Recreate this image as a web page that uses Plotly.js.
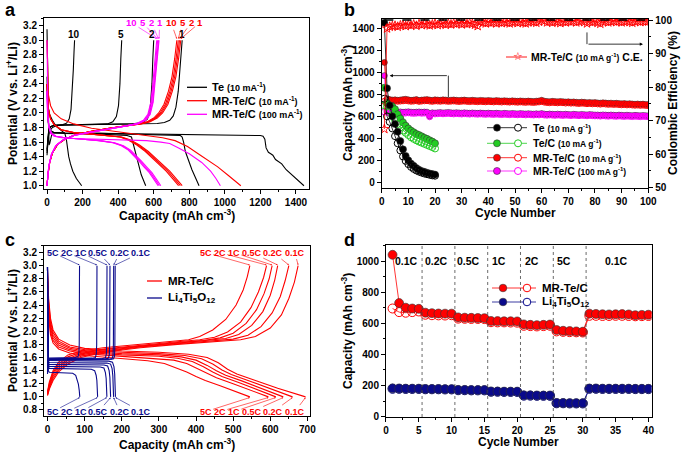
<!DOCTYPE html>
<html><head><meta charset="utf-8">
<script src="https://cdn.plot.ly/plotly-3.0.1.min.js"></script>
<style>html,body{margin:0;padding:0;background:#fff}#chart{width:685px;height:454px}</style>
</head><body><div id="chart"></div>
<script>
// ================= Panel a : voltage profiles =================
const A_TE_DIS1_CAP = [0,2,5,8,11,15,20,28,40,100,300,600,900,1100,1200,1215,1225,1232,1245,1258,1270,1285,1300,1320,1345,1375,1410,1445];
const A_TE_DIS1_V   = [3.15,2.7,2.0,1.65,1.56,1.58,1.65,1.72,1.73,1.725,1.72,1.71,1.705,1.70,1.69,1.68,1.64,1.52,1.46,1.44,1.42,1.36,1.33,1.30,1.22,1.15,1.08,1.0];
const A_TE_DIS2_CAP = [0,2,5,10,20,40,100,300,500,700,750,760,768,778,788,800,815,835,855];
const A_TE_DIS2_V   = [2.5,2.2,1.95,1.82,1.76,1.73,1.725,1.72,1.71,1.70,1.69,1.67,1.6,1.47,1.4,1.32,1.22,1.11,1.0];
const A_TE_DIS5_CAP = [0,2,5,10,20,40,100,300,450,475,485,495,505,515,530,555];
const A_TE_DIS5_V   = [2.4,2.1,1.92,1.8,1.75,1.73,1.72,1.71,1.69,1.67,1.58,1.46,1.36,1.27,1.15,1.0];
const A_TE_DIS10_CAP = [0,5,15,30,50,80,100,108,115,122,132,145,165,195];
const A_TE_DIS10_V   = [2.3,2.1,1.98,1.9,1.82,1.76,1.72,1.65,1.52,1.4,1.3,1.2,1.1,1.0];
const A_TE_CHG1_CAP = [0,3,6,10,20,40,100,300,500,620,660,690,710,725,738,748,755,760];
const A_TE_CHG1_V   = [1.42,1.58,1.7,1.77,1.81,1.83,1.835,1.84,1.845,1.855,1.87,1.9,1.96,2.08,2.3,2.6,2.85,3.0];
const A_TE_CHG2_CAP = [0,3,6,10,20,40,100,300,480,540,565,580,590,595,600];
const A_TE_CHG2_V   = [1.45,1.6,1.72,1.78,1.81,1.83,1.835,1.84,1.85,1.87,1.92,2.05,2.4,2.75,3.0];
const A_TE_CHG5_CAP = [0,3,6,10,20,40,100,250,340,370,390,402,410,415,420];
const A_TE_CHG5_V   = [1.48,1.62,1.73,1.78,1.81,1.83,1.835,1.84,1.85,1.88,1.95,2.1,2.4,2.75,3.0];
const A_TE_CHG10_CAP = [0,5,15,30,60,90,110,125,135,142,148,152,155];
const A_TE_CHG10_V   = [1.5,1.65,1.75,1.8,1.83,1.84,1.86,1.92,2.05,2.3,2.6,2.85,3.0];

const A_MR_DIS1_CAP = [0,3,8,20,40,80,150,250,400,550,650,720,790,850,880,960,1020,1090];
const A_MR_DIS1_V   = [3.0,2.5,2.25,2.1,2.0,1.92,1.85,1.79,1.74,1.7,1.66,1.62,1.54,1.44,1.39,1.26,1.14,1.0];
const A_MR_DIS_V     = [2.4,2.2,2.05,1.92,1.84,1.77,1.73,1.71,1.69,1.67,1.63,1.56,1.47,1.38,1.29,1.2,1.1,1.0];
const A_MR_DIS2_CAP  = [0,3,8,20,40,80,150,250,350,420,470,520,570,610,650,690,725,760];
const A_MR_DIS5_CAP  = [0,3,8,20,40,80,150,250,345,415,463,512,561,601,640,680,715,750];
const A_MR_DIS10_CAP = [0,3,8,20,40,80,150,250,340,410,456,505,553,592,631,670,705,740];
const A_MR_CHG_V     = [1.0,1.15,1.32,1.45,1.57,1.64,1.7,1.75,1.79,1.82,1.85,1.88,1.93,2.0,2.12,2.3,2.5,2.75,3.0];
const A_MR_CHG1_CAP  = [0,5,15,30,60,100,160,250,350,450,530,580,620,650,680,705,725,740,752];
const A_MR_CHG2_CAP  = [0,5,15,30,60,100,160,250,350,450,525,575,613,643,673,698,718,733,745];
const A_MR_CHG5_CAP  = [0,5,15,30,60,100,160,250,350,445,520,570,607,636,666,691,711,726,738];
const A_MR_CHG10_CAP = [0,5,15,30,60,100,160,250,350,440,513,563,600,628,658,683,703,718,730];

const A_HI_DIS1_CAP = [0,2,5,10,20,40,80,150,300,450,560,640,690,740,800,870,920,950,975];
const A_HI_DIS1_V   = [3.0,2.4,2.0,1.8,1.72,1.68,1.66,1.65,1.64,1.63,1.62,1.6,1.58,1.52,1.44,1.32,1.2,1.1,1.0];
const A_HI_DIS_V     = [2.3,2.0,1.82,1.72,1.68,1.66,1.64,1.62,1.59,1.55,1.49,1.42,1.34,1.26,1.18,1.09,1.0];
const A_HI_DIS2_CAP  = [0,3,10,25,50,100,200,300,380,430,470,500,530,560,590,615,640];
const A_HI_DIS5_CAP  = [0,3,10,25,50,100,200,295,375,424,463,493,522,552,582,607,632];
const A_HI_DIS10_CAP = [0,3,10,25,50,100,200,290,370,418,457,487,516,545,575,600,625];
const A_HI_CHG_V     = [1.0,1.1,1.27,1.43,1.55,1.63,1.69,1.73,1.77,1.81,1.85,1.9,1.98,2.15,2.4,2.65,2.85,3.0];
const A_HI_CHG1_CAP  = [0,3,10,25,50,90,150,230,330,430,510,555,580,597,608,617,624,630];
const A_HI_CHG2_CAP  = [0,3,10,25,50,90,150,230,330,428,507,552,577,594,605,614,621,627];
const A_HI_CHG5_CAP  = [0,3,10,25,50,90,150,230,330,424,503,547,572,589,600,609,616,622];
const A_HI_CHG10_CAP = [0,3,10,25,50,90,150,230,330,420,498,542,567,584,595,604,611,617];

const A_CYCLE_LABELS = ['10','5','2','1'];
const A_TE_LABEL_CAP = [150,415,592,760];
const A_HI_LABEL_CAP = [475,538,587,634];
const A_HI_END_CAP   = [617,622,627,630];
const A_MR_LABEL_CAP = [698,762,810,858];
const A_MR_END_CAP   = [730,738,745,752];

// ================= Panel b : cycling =================
const B_TE_CYC = [1,2,3,4,5,6,7,8,9,10,11,12,13,14,15,16,17,18,19,20];
const B_TE_DIS = [1450,855,700,600,530,460,375,300,240,200,170,150,130,115,102,95,87,80,75,70];
const B_TE_CHG = [760,600,550,490,420,355,290,235,195,165,140,122,108,97,88,80,74,68,63,60];
const B_TEC_DIS = [860,720,700,690,665,620,580,545,515,490,470,455,440,430,418,405,395,382,370,355];
const B_TEC_CHG = [700,690,650,610,565,530,500,470,450,430,410,395,382,370,360,350,340,330,320,308];
const B_MR_CYC = Array.from({length:100},(_,i)=>i+1);
const B_MR_DIS = [1090,760,752,748,750,746,749,752,755,750, 746,748,752,745,748,750,752,748,745,750,
  748,746,750,748,745,747,749,746,744,746, 748,745,743,746,744,742,745,743,741,744,
  742,740,743,741,739,742,740,738,741,739, 737,740,738,736,739,737,735,738,740,746,
  738,735,733,736,734,732,735,733,730,732, 729,731,728,726,729,727,724,726,723,725,
  722,720,723,721,718,720,717,719,716,714, 716,713,715,712,710,712,709,711,708,707];
const B_MR_CHG = [736,741,740,738,740,737,739,741,744,740, 737,739,742,736,739,741,742,739,736,740,
  739,737,740,739,736,738,740,737,735,737, 739,736,734,737,735,733,736,734,732,735,
  733,731,734,732,730,733,731,729,732,730, 728,731,729,727,730,728,726,729,731,736,
  729,726,724,727,725,723,726,724,721,723, 720,722,719,717,720,718,715,717,714,716,
  713,711,714,712,709,711,708,710,707,705, 707,704,706,703,701,703,700,702,699,698];
const B_HI_DIS = [970,650,640,638,636,638,640,637,639,641, 638,636,638,640,637,639,638,602,632,630,
  632,634,631,633,635,632,630,633,631,629, 632,630,628,631,629,627,630,628,626,629,
  627,625,628,626,624,627,625,623,626,624, 622,625,623,621,624,622,620,623,621,625,
  620,618,621,619,617,620,618,616,619,617, 615,618,616,614,617,615,613,616,614,612,
  612,610,613,611,609,612,610,608,611,609, 607,610,608,606,609,607,605,608,606,604];
const B_HI_CHG = [640,638,630,628,627,629,631,628,630,632, 629,627,629,631,628,630,629,596,624,622,
  624,626,623,625,627,624,622,625,623,621, 624,622,620,623,621,619,622,620,618,621,
  619,617,620,618,616,619,617,615,618,616, 614,617,615,613,616,614,612,615,613,617,
  612,610,613,611,609,612,610,608,611,609, 607,610,608,606,609,607,605,608,606,604,
  604,602,605,603,601,604,602,600,603,601, 599,602,600,598,601,599,597,600,598,596];
const B_CE = [67.5,97.5,98.0,98.2,98.3,98.0,98.4,98.5,98.2,98.6, 98.4,98.7,98.3,98.8,98.5,98.9,98.6,98.4,98.7,98.9,
  98.5,98.8,99.0,98.6,98.9,98.7,99.0,98.8,99.1,98.7, 99.0,98.8,99.1,98.9,98.6,98.2,99.5,99.2,99.0,99.3,
  99.1,99.4,99.0,99.3,99.1,99.4,99.2,99.0,99.3,99.5, 99.1,99.4,99.2,99.0,99.3,99.6,99.4,99.2,99.5,100.0,
  99.7,99.3,99.5,99.2,99.6,99.4,99.1,99.5,99.3,99.6, 99.4,99.7,99.3,99.5,99.8,99.4,99.0,99.5,99.3,99.6,
  99.2,98.9,99.4,99.6,99.3,99.5,99.7,99.4,99.6,99.3, 99.5,99.7,99.4,99.2,99.5,99.7,99.4,99.6,99.5,99.6];
const B_CE_REFERENCE = 100;

// ================= Panel c : rate voltage profiles =================
const C_RATES = ['0.1C','0.2C','0.5C','1C','2C','5C'];
const C_MR_DIS_CAP = [
  [0,3,8,15,30,60,100,200,300,380,430,460,485,510,560,620,695],
  [0,3,8,15,30,60,100,200,300,370,415,445,470,495,540,600,660],
  [0,3,8,15,30,60,100,200,300,360,400,430,455,480,525,580,635],
  [0,3,8,15,30,60,100,200,300,350,390,420,445,470,515,565,615],
  [0,3,8,15,30,60,100,200,290,340,375,405,430,455,500,550,595],
  [0,3,8,15,30,60,100,200,270,315,345,375,400,425,465,505,545]];
const C_MR_DIS_V = [
  [2.95,2.5,2.2,2.02,1.88,1.79,1.74,1.7,1.68,1.65,1.6,1.52,1.42,1.35,1.25,1.13,1.0],
  [2.9,2.45,2.15,1.98,1.85,1.76,1.72,1.68,1.66,1.63,1.58,1.5,1.41,1.34,1.25,1.12,1.0],
  [2.85,2.4,2.1,1.94,1.82,1.74,1.7,1.66,1.64,1.61,1.56,1.48,1.4,1.33,1.24,1.12,1.0],
  [2.8,2.35,2.05,1.9,1.79,1.72,1.68,1.64,1.62,1.59,1.54,1.46,1.38,1.31,1.22,1.11,1.0],
  [2.75,2.3,2.0,1.86,1.76,1.7,1.66,1.62,1.59,1.56,1.51,1.43,1.36,1.29,1.2,1.1,1.0],
  [2.7,2.25,1.95,1.82,1.73,1.67,1.63,1.58,1.55,1.51,1.45,1.38,1.31,1.25,1.17,1.09,1.0]];
const C_MR_CHG_CAP = [
  [0,5,15,30,55,90,150,250,350,450,520,560,600,630,650,665,675],
  [0,5,15,30,55,90,150,250,350,440,500,540,575,605,627,640,650],
  [0,5,15,30,55,90,150,250,350,430,480,515,550,580,600,612,620],
  [0,5,15,30,55,90,150,250,350,420,465,500,535,563,583,597,605],
  [0,5,15,30,55,90,150,250,350,410,450,485,520,548,568,582,590],
  [0,5,15,30,55,90,150,250,330,380,410,445,480,508,527,538,545]];
const C_MR_CHG_V = [
  [1.02,1.12,1.25,1.38,1.5,1.6,1.68,1.75,1.8,1.84,1.87,1.92,2.05,2.25,2.5,2.75,3.0],
  [1.03,1.14,1.28,1.41,1.53,1.62,1.69,1.76,1.81,1.85,1.88,1.94,2.07,2.28,2.53,2.77,3.0],
  [1.04,1.16,1.31,1.44,1.56,1.64,1.7,1.77,1.82,1.86,1.89,1.95,2.09,2.3,2.55,2.78,3.0],
  [1.05,1.18,1.34,1.47,1.58,1.66,1.72,1.78,1.83,1.86,1.9,1.97,2.12,2.33,2.57,2.8,3.0],
  [1.06,1.2,1.37,1.5,1.61,1.68,1.73,1.79,1.84,1.87,1.91,1.99,2.14,2.36,2.6,2.82,3.0],
  [1.08,1.23,1.4,1.53,1.64,1.7,1.75,1.8,1.84,1.87,1.92,2.02,2.18,2.4,2.63,2.83,3.0]];
const C_LTO_DIS_CAP = [
  [0,0.5,1,2,5,60,120,165,175,179,181,182.5,183],
  [0,0.5,1,2,5,60,120,160,170,174,176,177.5,178],
  [0,0.5,1,2,5,60,120,152,162,166,168,169.5,170],
  [0,0.5,1,2,5,60,110,142,152,156,158,159.5,160],
  [0,0.5,1,2,5,50,95,118,127,131,133,134.5,135],
  [0,0.5,1,2,5,30,55,68,76,80,83,85.5,87]];
const C_LTO_DIS_V = [
  [2.98,2.3,1.75,1.58,1.555,1.552,1.55,1.545,1.53,1.46,1.35,1.15,1.0],
  [2.98,2.3,1.72,1.55,1.525,1.522,1.52,1.515,1.5,1.43,1.32,1.14,1.0],
  [2.98,2.3,1.7,1.52,1.495,1.492,1.49,1.485,1.47,1.4,1.3,1.13,1.0],
  [2.98,2.3,1.68,1.49,1.465,1.462,1.46,1.455,1.44,1.37,1.28,1.12,1.0],
  [2.98,2.3,1.65,1.46,1.435,1.432,1.43,1.42,1.4,1.33,1.25,1.1,1.0],
  [2.98,2.3,1.6,1.4,1.375,1.372,1.37,1.36,1.33,1.27,1.2,1.1,1.0]];
const C_LTO_CHG_CAP = [
  [0,0.5,2,5,60,120,170,178,180.5,181.5,182,182.3],
  [0,0.5,2,5,60,120,166,174,176.5,177.5,178,178.3],
  [0,0.5,2,5,60,120,156,164,166.5,167.5,168,168.3],
  [0,0.5,2,5,60,110,148,156,158.5,159.5,160,160.3],
  [0,0.5,2,5,50,90,121,129,131.5,132.5,133,133.3],
  [0,0.5,2,5,30,55,74,82,84.5,85.5,86,86.3]];
const C_LTO_CHG_V = [
  [1.35,1.5,1.555,1.56,1.562,1.565,1.57,1.58,1.62,1.8,2.3,3.0],
  [1.36,1.51,1.56,1.565,1.567,1.57,1.575,1.585,1.63,1.8,2.3,3.0],
  [1.37,1.52,1.565,1.57,1.572,1.575,1.58,1.59,1.64,1.8,2.3,3.0],
  [1.38,1.53,1.57,1.575,1.577,1.58,1.585,1.595,1.65,1.8,2.3,3.0],
  [1.4,1.54,1.575,1.58,1.582,1.585,1.59,1.6,1.66,1.8,2.3,3.0],
  [1.42,1.56,1.585,1.59,1.592,1.595,1.6,1.61,1.67,1.8,2.3,3.0]];
// label anchor capacities (label text positions) for the rate annotations
const C_LTO_LABEL_CAP = [253,195,137,90,52,14];
const C_MR_LABEL_CAP  = [666,608,550,502,464,426];

// ================= Panel d : rate capability =================
const D_CYC = Array.from({length:40},(_,i)=>i+1);
const D_MR_DIS = [1040,730,700,695,693, 668,665,663,662,662, 638,636,635,634,633, 615,614,613,613,612,
  593,590,588,590,592, 557,552,550,548,546, 662,660,658,657,658, 659,657,652,654,655];
const D_MR_CHG = [695,672,668,672,676, 655,652,651,650,652, 630,629,628,628,627, 607,606,606,605,604,
  584,582,580,582,584, 548,545,543,542,541, 648,648,647,647,648, 648,647,645,646,647];
const D_LTO_DIS = [182,181,180,180,180, 178,178,178,177,177, 172,172,171,171,171, 162,162,161,161,161,
  137,137,136,136,136, 88,88,87,87,87, 181,181,180,180,180, 180,180,179,179,179];
const D_LTO_CHG = [179,179,178,178,178, 176,176,176,175,175, 170,170,169,169,169, 160,160,159,159,159,
  135,135,134,134,134, 86,86,85,85,85, 179,179,178,178,178, 178,178,177,177,177];
const D_RATE_LABELS = ['0.1C','0.2C','0.5C','1C','2C','5C','0.1C'];
const D_RATE_LABEL_X = [3.2,7.7,12.5,17.3,22.2,27.2,35.2];
const D_RATE_BOUNDS = [5.5,10.5,15.5,20.5,25.5,30.5];

// ================= styling =================
const FONT = 'Liberation Sans, Arial, sans-serif';
const BLACK='#000000', RED='#ff0000', MAG='#ff00ff', GREEN='#22cc22', NAVY='#0a0a8c';
const W=685, H=454;
const P = px => px/W, Q = py => 1-py/H;

function ln(x,y,xa,ya,color,w){return {type:'scatter',mode:'lines',x:x,y:y,xaxis:xa,yaxis:ya,line:{color:color,width:w||1.1},showlegend:false,hoverinfo:'skip'};}
function pts(x,y,xa,ya,color,filled,size,lw){
  return {type:'scatter',mode:'lines+markers',x:x,y:y,xaxis:xa,yaxis:ya,showlegend:false,hoverinfo:'skip',
    line:{color:color,width:lw||0.8},
    marker:filled?{symbol:'circle',size:size,color:color,line:{color:'#333',width:0.6}}
                 :{symbol:'circle-open',size:size,color:color,line:{color:color,width:1}}};
}

const traces=[];
// panel a
[[A_TE_DIS1_CAP,A_TE_DIS1_V],[A_TE_DIS2_CAP,A_TE_DIS2_V],[A_TE_DIS5_CAP,A_TE_DIS5_V],[A_TE_DIS10_CAP,A_TE_DIS10_V],
 [A_TE_CHG1_CAP,A_TE_CHG1_V],[A_TE_CHG2_CAP,A_TE_CHG2_V],[A_TE_CHG5_CAP,A_TE_CHG5_V],[A_TE_CHG10_CAP,A_TE_CHG10_V]]
 .forEach(c=>traces.push(ln(c[0],c[1],'x','y',BLACK,1.1)));
[[A_MR_DIS1_CAP,A_MR_DIS1_V],[A_MR_DIS2_CAP,A_MR_DIS_V],[A_MR_DIS5_CAP,A_MR_DIS_V],[A_MR_DIS10_CAP,A_MR_DIS_V],
 [A_MR_CHG1_CAP,A_MR_CHG_V],[A_MR_CHG2_CAP,A_MR_CHG_V],[A_MR_CHG5_CAP,A_MR_CHG_V],[A_MR_CHG10_CAP,A_MR_CHG_V]]
 .forEach(c=>traces.push(ln(c[0],c[1],'x','y',RED,1.1)));
[[A_HI_DIS1_CAP,A_HI_DIS1_V],[A_HI_DIS2_CAP,A_HI_DIS_V],[A_HI_DIS5_CAP,A_HI_DIS_V],[A_HI_DIS10_CAP,A_HI_DIS_V],
 [A_HI_CHG1_CAP,A_HI_CHG_V],[A_HI_CHG2_CAP,A_HI_CHG_V],[A_HI_CHG5_CAP,A_HI_CHG_V],[A_HI_CHG10_CAP,A_HI_CHG_V]]
 .forEach(c=>traces.push(ln(c[0],c[1],'x','y',MAG,1.1)));
// panel b
traces.push({type:'scatter',mode:'lines+markers',x:B_MR_CYC,y:B_CE,xaxis:'x2',yaxis:'y3',showlegend:false,hoverinfo:'skip',
  line:{color:RED,width:0.8},marker:{symbol:'star-open',size:7,color:RED,line:{color:RED,width:0.9}}});
traces.push(pts(B_MR_CYC,B_MR_DIS,'x2','y2',RED,true,6));
traces.push(pts(B_MR_CYC,B_MR_CHG,'x2','y2',RED,false,6));
traces.push(pts(B_MR_CYC,B_HI_DIS,'x2','y2',MAG,true,6));
traces.push(pts(B_MR_CYC,B_HI_CHG,'x2','y2',MAG,false,6));
traces.push(pts(B_TE_CYC,B_TEC_DIS,'x2','y2',GREEN,true,7));
traces.push(pts(B_TE_CYC,B_TEC_CHG,'x2','y2',GREEN,false,7));
traces.push(pts(B_TE_CYC,B_TE_DIS,'x2','y2',BLACK,true,7));
traces.push(pts(B_TE_CYC,B_TE_CHG,'x2','y2',BLACK,false,7));
// panel c
for(let i=0;i<6;i++){traces.push(ln(C_MR_DIS_CAP[i],C_MR_DIS_V[i],'x3','y4',RED,1.1));traces.push(ln(C_MR_CHG_CAP[i],C_MR_CHG_V[i],'x3','y4',RED,1.1));}
for(let i=0;i<6;i++){traces.push(ln(C_LTO_DIS_CAP[i],C_LTO_DIS_V[i],'x3','y4',NAVY,1.1));traces.push(ln(C_LTO_CHG_CAP[i],C_LTO_CHG_V[i],'x3','y4',NAVY,1.1));}
// panel d
traces.push(pts(D_CYC,D_MR_CHG,'x4','y5',RED,false,9));
traces.push(pts(D_CYC,D_MR_DIS,'x4','y5',RED,true,9));
traces.push(pts(D_CYC,D_LTO_CHG,'x4','y5',NAVY,false,9));
traces.push(pts(D_CYC,D_LTO_DIS,'x4','y5',NAVY,true,9));

// ================= layout =================
const tickFont={family:FONT,size:10,color:'#000',weight:'bold'};
function ax(o){return Object.assign({showline:true,linecolor:'#000',linewidth:1,mirror:true,ticks:'outside',ticklen:4,tickwidth:1,tickcolor:'#000',
  showgrid:false,zeroline:false,tickfont:tickFont,fixedrange:true,automargin:false},o);}
function minor(d){return {ticks:'outside',ticklen:2,tickwidth:1,tickcolor:'#000',dtick:d,showgrid:false};}

const ann=[], shp=[];
function txt(t,px,py,size,opt){ann.push(Object.assign({text:t,xref:'paper',yref:'paper',x:P(px),y:Q(py),showarrow:false,
  xanchor:'left',yanchor:'middle',font:{family:FONT,size:size,color:'#000',weight:'bold'}},opt||{}));}
function title(t,cx,cy,rot){ann.push({text:t,xref:'paper',yref:'paper',x:P(cx),y:Q(cy),showarrow:false,xanchor:'center',yanchor:'middle',
  textangle:rot?-90:0,font:{family:FONT,size:12,color:'#000',weight:'bold'}});}
function lgLine(x0,x1,y,color,w){shp.push({type:'line',xref:'paper',yref:'paper',x0:P(x0),x1:P(x1),y0:Q(y),y1:Q(y),line:{color:color,width:w||1.2}});}
function lgDot(cx,cy,r,color,filled){shp.push({type:'circle',xref:'paper',yref:'paper',xsizemode:'pixel',ysizemode:'pixel',xanchor:P(cx),yanchor:Q(cy),
  x0:-r,x1:r,y0:-r,y1:r,fillcolor:filled?color:'#ffffff',line:{color:filled?'#333':color,width:filled?0.6:1}});}

// panel letters
txt('a',3,10,18); txt('b',342,10,18); txt('c',3,240,18); txt('d',342,240,18);
// axis titles
title('Potential (V vs. Li<sup>+</sup>/Li)',12,104,true);
title('Capacity (mAh cm<sup>-3</sup>)',177,215,false);
title('Capacity (mAh cm<sup>-3</sup>)',347,103,true);
title('Coulombic Efficiency (%)',673,103,true);
title('Cycle Number',515,213,false);
title('Potential (V vs. Li<sup>+</sup>/Li)',12,331,true);
title('Capacity (mAh cm<sup>-3</sup>)',177,444,false);
title('Capacity (mAh cm<sup>-3</sup>)',347,331,true);
title('Cycle Number',518,442,false);

// panel a legend
const small = (s,sz)=>'<span style="font-size:'+(sz||9)+'px">'+s+'</span>';
[['Te '+small('(10 mA<sup>-1</sup>)'),BLACK,87.3],['MR-Te/C '+small('(10 mA<sup>-1</sup>)'),RED,100.7],['MR-Te/C '+small('(100 mA<sup>-1</sup>)'),MAG,114.3]]
 .forEach(r=>{lgLine(187,207,r[2],r[1],1.3);txt(r[0],210,r[2],11);});
// panel a cycle labels
A_CYCLE_LABELS.forEach((l,i)=>{
  ann.push({text:l,xref:'x',yref:'y',x:A_TE_LABEL_CAP[i],y:3.085,showarrow:false,font:{family:FONT,size:10,color:BLACK,weight:'bold'}});
  ann.push({text:l,xref:'x',yref:'y',x:A_HI_END_CAP[i],y:3.02,ax:A_HI_LABEL_CAP[i],ay:3.24,axref:'x',ayref:'y',showarrow:true,arrowhead:2,arrowsize:0.5,arrowwidth:0.6,arrowcolor:MAG,
    font:{family:FONT,size:9.5,color:MAG,weight:'bold'}});
  ann.push({text:l,xref:'x',yref:'y',x:A_MR_END_CAP[i],y:3.02,ax:A_MR_LABEL_CAP[i],ay:3.24,axref:'x',ayref:'y',showarrow:true,arrowhead:2,arrowsize:0.5,arrowwidth:0.6,arrowcolor:RED,
    font:{family:FONT,size:9.5,color:RED,weight:'bold'}});
});

// panel b legends
lgLine(506,527,57,RED,0.9);
txt('☆',511,57,11,{font:{family:'DejaVu Sans',size:11,color:RED}});
txt('MR-Te/C '+small('(10 mA g<sup>-1</sup>)',8.5)+' C.E.',529,57,10.5);
[['Te '+small('(10 mA g<sup>-1</sup>)',8.5),BLACK,127.7],['Te/C '+small('(10 mA g<sup>-1</sup>)',8.5),GREEN,143.3],
 ['MR-Te/C '+small('(10 mA g<sup>-1</sup>)',8.5),RED,157.7],['MR-Te/C '+small('(100 mA g<sup>-1</sup>)',8.5),MAG,171]]
 .forEach(r=>{lgLine(487,527,r[2],r[1],0.8);lgDot(497,r[2],3.5,r[1],true);lgDot(518,r[2],3.5,r[1],false);txt(r[0],531,r[2],10.5);});
// panel b reference line and arrows
shp.push({type:'line',xref:'x2',yref:'y3',x0:1,x1:100,y0:B_CE_REFERENCE,y1:B_CE_REFERENCE,line:{color:'#000',width:1.5,dash:'dash'}});
shp.push({type:'line',xref:'x2',yref:'y2',x0:25,x1:25,y0:775,y1:970,line:{color:'#000',width:0.8}});
ann.push({text:'',xref:'x2',yref:'y2',x:3,y:970,ax:25,ay:970,axref:'x2',ayref:'y2',showarrow:true,arrowhead:2,arrowsize:0.8,arrowwidth:0.8,arrowcolor:'#000'});
shp.push({type:'line',xref:'x2',yref:'y3',x0:77,x1:77,y0:96.3,y1:92.8,line:{color:'#000',width:0.8}});
ann.push({text:'',xref:'x2',yref:'y3',x:98,y:92.8,ax:77,ay:92.8,axref:'x2',ayref:'y3',showarrow:true,arrowhead:2,arrowsize:0.8,arrowwidth:0.8,arrowcolor:'#000'});

// panel c legend & rate labels
lgLine(147,162,281,RED,1.3); txt('MR-Te/C',166,281,11.5);
lgLine(147,162,298,NAVY,1.3); txt('Li<sub>4</sub>Ti<sub>5</sub>O<sub>12</sub>',166,298,11.5);
C_RATES.forEach((r,i)=>{
  const ltoTop=C_LTO_CHG_CAP[i][C_LTO_CHG_CAP[i].length-1], ltoBot=C_LTO_DIS_CAP[i][C_LTO_DIS_CAP[i].length-1];
  const mrTop=C_MR_CHG_CAP[i][C_MR_CHG_CAP[i].length-1], mrBot=C_MR_DIS_CAP[i][C_MR_DIS_CAP[i].length-1];
  const base={xref:'x3',yref:'y4',axref:'x3',ayref:'y4',showarrow:true,arrowhead:2,arrowsize:0.5,arrowwidth:0.6,text:r};
  ann.push(Object.assign({},base,{x:ltoTop,y:3.01,ax:C_LTO_LABEL_CAP[i],ay:3.2,arrowcolor:NAVY,font:{family:FONT,size:9,color:NAVY,weight:'bold'}}));
  ann.push(Object.assign({},base,{x:ltoBot,y:0.99,ax:C_LTO_LABEL_CAP[i],ay:0.775,arrowcolor:NAVY,font:{family:FONT,size:9,color:NAVY,weight:'bold'}}));
  ann.push(Object.assign({},base,{x:mrTop,y:3.01,ax:C_MR_LABEL_CAP[i],ay:3.2,arrowcolor:RED,font:{family:FONT,size:9,color:RED,weight:'bold'}}));
  ann.push(Object.assign({},base,{x:mrBot,y:0.99,ax:C_MR_LABEL_CAP[i],ay:0.775,arrowcolor:RED,font:{family:FONT,size:9,color:RED,weight:'bold'}}));
});

// panel d legend, boundaries and labels
[['MR-Te/C',RED,288],['Li<sub>4</sub>Ti<sub>5</sub>O<sub>12</sub>',NAVY,302]].forEach(r=>{
  lgLine(492,536,r[2],r[1],0.8);lgDot(503,r[2],3.8,r[1],true);lgDot(527,r[2],3.8,r[1],false);txt(r[0],540,r[2],11.5);});
D_RATE_BOUNDS.forEach(b=>shp.push({type:'line',xref:'x4',yref:'y5 domain',x0:b,x1:b,y0:0,y1:1,line:{color:'#444',width:0.8,dash:'dot'}}));
D_RATE_LABELS.forEach((l,i)=>ann.push({text:l,xref:'x4',yref:'y5',x:D_RATE_LABEL_X[i],y:1000,showarrow:false,font:{family:FONT,size:10.5,color:'#000',weight:'bold'}}));

const layout={width:W,height:H,margin:{l:0,r:0,t:0,b:0},paper_bgcolor:'#fff',plot_bgcolor:'rgba(0,0,0,0)',showlegend:false,
  font:{family:FONT,color:'#000'},
  xaxis: ax({domain:[0.06423,0.45153],anchor:'y',range:[-17,1475],tick0:0,dtick:200,minor:minor(100)}),
  yaxis: ax({domain:[0.5837,0.96035],anchor:'x',range:[0.955,3.306],tick0:1.0,dtick:0.2,tickformat:'.1f',minor:minor(0.1)}),
  xaxis2:ax({domain:[0.55723,0.94642],anchor:'y2',range:[0,100],tick0:0,dtick:10,minor:minor(5)}),
  yaxis2:ax({domain:[0.58656,0.95815],anchor:'x2',range:[-49,1485],tick0:0,dtick:200,minor:minor(100)}),
  yaxis3:ax({overlaying:'y2',side:'right',anchor:'x2',range:[50,100.3],tick0:50,dtick:10,minor:minor(5),mirror:false}),
  xaxis3:ax({domain:[0.06423,0.45255],anchor:'y4',range:[-9.4,707],tick0:0,dtick:100,minor:minor(50)}),
  yaxis4:ax({domain:[0.08436,0.45815],anchor:'x3',range:[0.713,3.30],tick0:0.8,dtick:0.2,tickformat:'.1f',minor:minor(0.1)}),
  xaxis4:ax({domain:[0.5635,0.95139],anchor:'y5',range:[0,40.5],tick0:0,dtick:5,minor:minor(2.5)}),
  yaxis5:ax({domain:[0.0815,0.46035],anchor:'x4',range:[-2,1103],tick0:0,dtick:200,minor:minor(100)}),
  annotations:ann, shapes:shp};
Plotly.newPlot('chart',traces,layout,{displayModeBar:false,staticPlot:true});
</script></body></html>
